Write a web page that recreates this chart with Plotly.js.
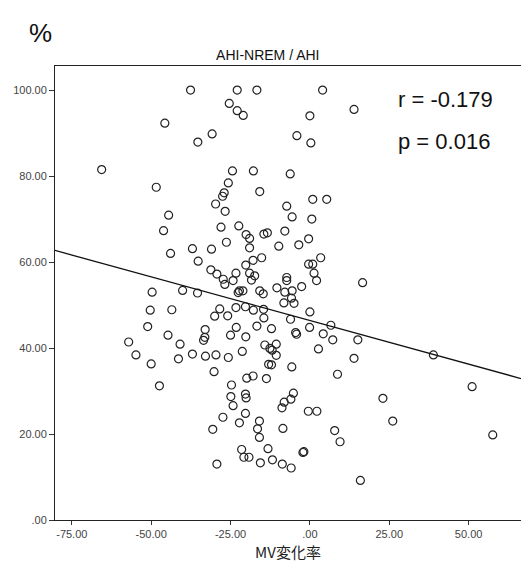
<!DOCTYPE html>
<html>
<head>
<meta charset="utf-8">
<script src="https://cdn.plot.ly/plotly-3.0.1.min.js"></script>
<style>html,body{margin:0;padding:0;background:#fff;}#chart{width:521px;height:567px;}</style>
</head>
<body>
<div id="chart"></div>
<script>
// MV change rate (%) for each subject
var mvChange = [
-37.6,-45.7,-30.8,-35.3,-65.6,-48.4,-29.7,-44.5,-22.9,-16.7,4.0,-25.4,-22.9,-21.0,0.0,-4.1,0.3,-24.4,-17.8,-6.2,
-25.7,-27.0,-27.5,-15.8,-26.7,-7.3,0.9,5.3,-5.6,0.6,13.9,
-46.1,-43.9,-37.0,-31.0,-35.2,-31.2,-29.3,-49.7,-40.1,-35.4,-50.3,-43.5,-30.0,-51.1,-33.0,-33.1,-33.5,-44.7,-57.1,
-40.9,-54.8,-41.4,-37.0,-32.9,-29.6,-50.0,-30.2,
-47.4,-30.6,-29.3,
-28.0,-22.4,-20.1,-19.0,-14.5,-13.4,-7.9,-26.3,-19.0,-9.8,-3.5,-0.4,-27.3,-26.8,-24.2,-23.3,-20.2,-17.9,-15.2,
-19.0,-17.4,-18.4,-22.2,-21.1,-22.6,-15.8,-14.7,-10.4,-7.3,-7.3,-7.9,-5.6,-2.6,-0.4,0.9,1.3,2.1,3.4,
-5.8,-5.0,-8.2,0.0,-28.4,-25.9,-23.3,-20.3,-17.8,-14.6,-14.5,-6.1,-16.7,-12.1,-23.2,-25.0,-20.2,-4.5,-4.2,-0.1,
4.2,6.6,7.2,2.7,-14.2,-12.6,-10.6,-11.9,-10.6,-21.3,-25.7,-13.0,-12.1,-5.7,8.7,-19.9,-17.9,-13.7,
-24.7,-24.9,-20.3,-20.1,-24.2,-5.2,-6.0,-8.1,-8.8,-0.5,2.2,-27.4,-20.3,-22.2,-15.9,-16.5,-15.9,-8.5,7.8,9.5,
-21.5,-20.8,-19.2,-13.2,-15.6,-11.8,-8.7,-5.9,-2.2,-1.9,
16.6,15.1,13.9,38.9,23.0,26.1,15.9,51.1,57.6
];
// AHI-NREM / AHI (%) for each subject
var ahiRatio = [
100.0,92.3,89.8,87.9,81.5,77.4,73.5,70.9,100.0,100.0,100.0,96.9,95.2,94.1,94.0,89.4,87.7,81.2,81.2,80.5,
78.4,76.1,75.3,76.4,71.8,73.0,74.6,74.6,70.5,70.0,95.5,
67.3,62.0,63.1,63.0,60.2,58.2,57.2,53.0,53.4,52.8,48.8,48.9,47.4,45.0,44.3,42.5,41.8,43.0,41.4,
40.9,38.4,37.5,38.6,38.1,38.4,36.3,34.5,
31.2,21.1,13.0,
68.1,68.4,66.4,65.5,66.5,66.8,67.2,64.6,63.3,63.7,64.0,65.4,56.0,54.8,55.7,57.4,59.3,60.4,61.0,
57.4,56.8,55.8,53.3,53.3,52.9,53.3,52.6,54.0,56.4,55.7,53.0,53.3,54.3,59.5,59.5,57.4,55.7,61.0,
51.6,50.4,50.5,48.4,49.1,47.5,49.4,49.6,48.8,49.0,47.0,46.7,45.1,44.5,44.8,43.0,42.6,43.6,43.2,44.8,
43.3,45.3,41.9,39.8,40.7,39.9,40.9,39.5,38.3,39.2,37.8,36.2,36.1,35.6,33.9,33.0,33.5,32.9,
31.4,28.7,29.3,28.4,26.6,29.5,28.1,27.4,26.1,25.3,25.3,23.9,24.8,22.6,23.0,21.2,19.2,21.3,20.8,18.2,
16.4,14.6,14.6,16.6,13.3,14.0,13.0,12.1,15.7,15.9,
55.2,41.9,37.6,38.4,28.3,23.0,9.2,31.0,19.8
];
// linear fit
var fitIntercept = 46.4;
var fitSlope = -0.203;
var xRange = [-80.3, 66.5];
var yRange = [0, 105.6];
var xTickVals = [-75, -50, -25, 0, 25, 50];
var xTickText = ["-75.00", "-50.00", "-25.00", ".00", "25.00", "50.00"];
var yTickVals = [0, 20, 40, 60, 80, 100];
var yTickText = [".00", "20.00", "40.00", "60.00", "80.00", "100.00"];
var statR = "r = -0.179";
var statP = "p = 0.016";

var fitX = [xRange[0], xRange[1]];
var fitY = fitX.map(function (v) { return fitIntercept + fitSlope * v; });

var traces = [
  {
    x: mvChange, y: ahiRatio, type: "scatter", mode: "markers",
    marker: { symbol: "circle-open", size: 8, color: "#222", line: { width: 1.2, color: "#222" } },
    hoverinfo: "x+y", showlegend: false
  },
  {
    x: fitX, y: fitY, type: "scatter", mode: "lines",
    line: { color: "#111", width: 1.3 }, hoverinfo: "skip", showlegend: false
  }
];

var tickFont = { family: "Liberation Sans, Arial, sans-serif", size: 11, color: "#444" };
var layout = {
  width: 521, height: 567,
  margin: { l: 55, r: 0, t: 66, b: 47 },
  paper_bgcolor: "#fff", plot_bgcolor: "#fff",
  showlegend: false,
  title: {
    text: "AHI-NREM / AHI",
    font: { family: "Liberation Sans, Arial, sans-serif", size: 14, color: "#111" },
    x: 0.514, xanchor: "center", xref: "container",
    y: 1 - 55 / 567, yanchor: "middle", yref: "container"
  },
  xaxis: {
    range: xRange, tickmode: "array", tickvals: xTickVals, ticktext: xTickText,
    ticks: "outside", ticklen: 4, tickwidth: 1, tickcolor: "#333",
    showline: true, mirror: true, linecolor: "#222", linewidth: 1,
    showgrid: false, zeroline: false, tickfont: tickFont,
    title: { text: "MV変化率", font: { family: "Noto Sans CJK JP, sans-serif", size: 15, color: "#222" }, standoff: 8 }
  },
  yaxis: {
    range: yRange, tickmode: "array", tickvals: yTickVals, ticktext: yTickText,
    ticks: "outside", ticklen: 5, tickwidth: 1, tickcolor: "#333",
    showline: true, mirror: true, linecolor: "#222", linewidth: 1,
    showgrid: false, zeroline: false, tickfont: tickFont
  },
  annotations: [
    { text: statR, xref: "x", yref: "y", x: 27.0, y: 97.7, xanchor: "left", yanchor: "middle", showarrow: false,
      font: { family: "Liberation Sans, Arial, sans-serif", size: 22, color: "#111" } },
    { text: statP, xref: "x", yref: "y", x: 27.0, y: 88.1, xanchor: "left", yanchor: "middle", showarrow: false,
      font: { family: "Liberation Sans, Arial, sans-serif", size: 22, color: "#111" } },
    { text: "%", xref: "paper", yref: "paper", x: -0.06, y: 1.072, xanchor: "left", yanchor: "middle", showarrow: false,
      font: { family: "Liberation Sans, Arial, sans-serif", size: 26, color: "#111" } }
  ]
};

Plotly.newPlot("chart", traces, layout, { staticPlot: true, displayModeBar: false });
</script>
</body>
</html>
